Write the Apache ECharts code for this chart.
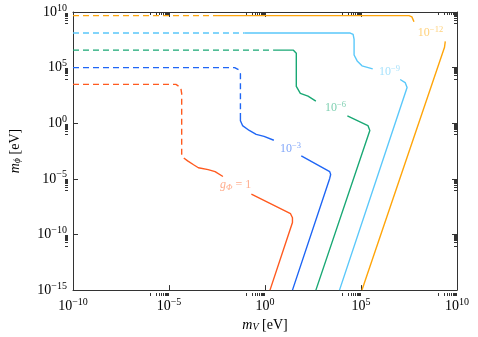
<!DOCTYPE html>
<html>
<head>
<meta charset="utf-8">
<script src="https://cdn.jsdelivr.net/npm/echarts@6/dist/echarts.min.js"></script>
<style>
html, body { margin: 0; padding: 0; background: #fff; }
#main { width: 478px; height: 337px; }
</style>
</head>
<body>
<div id="main"></div>
<script>
// contour points, stored as [log10 mV, log10 mphi]
var gOneDash   = [[-10,3.49],[-4.64,3.49],[-4.39,3.22],[-4.34,2.69],[-4.34,-2.76],[-4.23,-3.12]];
var gOneSolidA = [[-4.23,-3.12],[-4.03,-3.38],[-3.72,-3.73],[-3.47,-4.0],[-2.96,-4.17],[-2.6,-4.35],[-2.19,-4.79]];
var gOneSolidB = [[-0.71,-6.37],[1.33,-8.13],[1.43,-8.49],[1.43,-8.93],[0.26,-15]];

var g3Dash   = [[-10,5],[-1.58,5],[-1.38,4.81],[-1.28,4.45],[-1.28,0.93]];
var g3SolidA = [[-1.28,0.93],[-1.28,0.23],[-1.17,-0.21],[-0.82,-0.65],[-0.46,-1.0],[-0.05,-1.18],[0.46,-1.53]];
var g3SolidB = [[1.89,-2.94],[3.37,-4.35],[3.42,-4.61],[3.37,-4.96],[1.43,-15]];

var g6Dash   = [[-10,6.57],[0.46,6.57]];
var g6SolidA = [[0.46,6.57],[1.48,6.57],[1.63,6.30],[1.63,3.31],[1.84,2.69],[2.24,2.43],[2.65,1.99]];
var g6SolidB = [[4.29,0.67],[5.36,-0.21],[5.46,-0.65],[2.65,-15]];

var g9Dash   = [[-10,8.11],[-1.07,8.11]];
var g9SolidA = [[-1.07,8.11],[4.44,8.11],[4.59,7.98],[4.64,7.54],[4.64,6.13],[4.80,5.60],[5.05,5.16],[5.61,4.89]];
var g9SolidB = [[7.04,3.93],[7.30,3.66],[7.40,3.22],[3.88,-15]];

var g12Dash   = [[-10,9.67],[-2.45,9.67]];
var g12SolidA = [[-2.45,9.67],[7.5,9.67],[7.65,9.56],[7.76,9.12]];
var g12SolidB = [[9.39,7.36],[9.35,6.83],[5.05,-15]];

// contour label positions and texts
var labelPos = [[-1.53,-5.5],[1.33,-2.32],[3.67,1.37],[6.48,4.63],[8.62,8.15]];
var labelText = ['{i|g}{sub|Φ}{b| = 1}', '{b|10}{s|−3}', '{b|10}{s|−6}', '{b|10}{s|−9}', '{b|10}{s|−12}'];

var xMajorExp = [-10, -5, 0, 5, 10];
var yMajorExp = [-15, -10, -5, 0, 5, 10];

var colors = ['#ff5a1f', '#1f66f5', '#19a874', '#5ac8fa', '#ffa50a'];
var labelColors = ['#ff9870', '#5f8ff8', '#5cc39c', '#8fd9fb', '#ffc55a'];

var myChart = echarts.init(document.getElementById('main'));

function pts(arr) {
    return arr.map(function (p) { return [Math.pow(10, p[0]), Math.pow(10, p[1])]; });
}

function seg(data, color, dashed) {
    return {
        type: 'line',
        data: pts(data),
        symbol: 'none',
        silent: true,
        lineStyle: { color: color, width: 1.4, type: dashed ? [6, 4] : 'solid' }
    };
}

function expLabel(v) {
    var e = Math.round(Math.log10(v));
    return '{b|10}{s|' + (e < 0 ? '−' + (-e) : e) + '}';
}

var tickRich = {
    b: { fontFamily: 'Liberation Serif', fontSize: 14, color: '#000', lineHeight: 18 },
    s: { fontFamily: 'Liberation Serif', fontSize: 10, color: '#000', verticalAlign: 'top', lineHeight: 12 }
};

var gridL = 65, gridT = 12, gridR = 457, gridB = 296;

var axisBase = {
    type: 'log',
    logBase: 10,
    interval: 5,
    axisLine: { show: true, lineStyle: { color: '#333', width: 1 } },
    axisTick: { show: true, inside: true, length: 5, lineStyle: { color: '#333' } },
    splitLine: { show: false },
    minorTick: { show: false }
};

var series = [
    seg(gOneDash, colors[0], true), seg(gOneSolidA, colors[0]), seg(gOneSolidB, colors[0]),
    seg(g3Dash, colors[1], true), seg(g3SolidA, colors[1]), seg(g3SolidB, colors[1]),
    seg(g6Dash, colors[2], true), seg(g6SolidA, colors[2]), seg(g6SolidB, colors[2]),
    seg(g9Dash, colors[3], true), seg(g9SolidA, colors[3]), seg(g9SolidB, colors[3]),
    seg(g12Dash, colors[4], true), seg(g12SolidA, colors[4]), seg(g12SolidB, colors[4])
];

series.push({
    type: 'scatter',
    symbolSize: 0,
    silent: true,
    data: labelPos.map(function (p, i) {
        var c = labelColors[i];
        return {
            value: [Math.pow(10, p[0]), Math.pow(10, p[1])],
            label: {
                show: true,
                position: 'inside',
                formatter: labelText[i],
                rich: {
                    b: { fontFamily: 'Liberation Serif', fontSize: 12, color: c, lineHeight: 15 },
                    s: { fontFamily: 'Liberation Serif', fontSize: 8.5, color: c, verticalAlign: 'top', lineHeight: 10 },
                    i: { fontFamily: 'Liberation Serif', fontStyle: 'italic', fontSize: 12, color: c, lineHeight: 15 },
                    sub: { fontFamily: 'Liberation Serif', fontStyle: 'italic', fontSize: 8.5, color: c, verticalAlign: 'bottom', lineHeight: 10 }
                }
            }
        };
    })
});

var nameRich = {
    i: { fontFamily: 'Liberation Serif', fontStyle: 'italic', fontSize: 14, color: '#000' },
    sub: { fontFamily: 'Liberation Serif', fontStyle: 'italic', fontSize: 10, color: '#000', verticalAlign: 'bottom' },
    b: { fontFamily: 'Liberation Serif', fontSize: 14, color: '#000' }
};

var option = {
    animation: false,
    grid: { left: gridL, top: gridT, right: 478 - gridR, bottom: 337 - gridB },
    xAxis: [
        Object.assign({}, axisBase, {
            position: 'bottom', min: 1e-10, max: 1e10,
            axisLabel: { formatter: expLabel, rich: tickRich, margin: 7 },
            name: '{i|m}{sub|V}{b| [eV]}',
            nameLocation: 'middle',
            nameGap: 27,
            nameTextStyle: { rich: nameRich }
        }),
        Object.assign({}, axisBase, {
            position: 'top', min: 1e-10, max: 1e10,
            axisLabel: { show: false }
        })
    ],
    yAxis: [
        Object.assign({}, axisBase, {
            position: 'left', min: 1e-15, max: 1e10,
            axisLabel: { formatter: expLabel, rich: tickRich, margin: 6 },
            name: '{i|m}{sub|ϕ}{b| [eV]}',
            nameLocation: 'middle',
            nameGap: 51,
            nameRotate: 90,
            nameTextStyle: { rich: nameRich }
        }),
        Object.assign({}, axisBase, {
            position: 'right', min: 1e-15, max: 1e10,
            axisLabel: { show: false }
        })
    ],
    series: series
};

myChart.setOption(option);

// minor log ticks in the decade just below each labelled tick
var minor = [];
function tick(x1, y1, x2, y2) {
    minor.push({ type: 'line', silent: true, shape: { x1: x1, y1: y1, x2: x2, y2: y2 }, style: { stroke: '#333', lineWidth: 1 } });
}
xMajorExp.forEach(function (k) {
    for (var m = 1; m <= 9; m++) {
        var v = m * Math.pow(10, k - 1);
        if (v < 1e-10) continue;
        var px = Math.round(myChart.convertToPixel({ xAxisIndex: 0 }, v)) + 0.5;
        tick(px, gridB, px, gridB - 3);
        tick(px, gridT, px, gridT + 3);
    }
});
yMajorExp.forEach(function (k) {
    for (var m = 1; m <= 9; m++) {
        var v = m * Math.pow(10, k - 1);
        if (v < 1e-15) continue;
        var py = Math.round(myChart.convertToPixel({ yAxisIndex: 0 }, v)) + 0.5;
        tick(gridL, py, gridL + 3, py);
        tick(gridR, py, gridR - 3, py);
    }
});
myChart.setOption({ graphic: minor });

window.onresize = function () {
    myChart.resize();
};
</script>
</body>
</html>
